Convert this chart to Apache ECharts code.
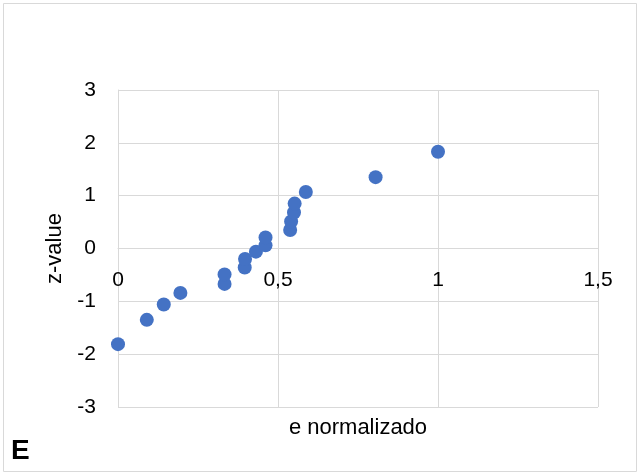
<!DOCTYPE html>
<html><head><meta charset="utf-8">
<script src="https://cdn.jsdelivr.net/npm/echarts@6/dist/echarts.min.js"></script>
<style>html,body{margin:0;padding:0;background:#fff}#c{width:640px;height:475px}</style>
</head><body><div id="c"></div>
<script>
const xValues = [0, 0.09, 0.143, 0.195, 0.333, 0.333, 0.396, 0.397, 0.431, 0.461, 0.461, 0.538, 0.541, 0.55, 0.552, 0.587, 0.805, 1.0];
const zValues = [-1.81, -1.35, -1.06, -0.84, -0.67, -0.49, -0.36, -0.20, -0.06, 0.06, 0.21, 0.35, 0.51, 0.68, 0.85, 1.07, 1.35, 1.83];
const xTitle = 'e normalizado';
const yTitle = 'z-value';
const panelLabel = 'E';
const yMin = -3, yMax = 3;

const chart = echarts.init(document.getElementById('c'), null, {renderer: 'canvas'});
const font = '"Liberation Sans", Arial, sans-serif';
const gridTop = 90, gridBottom = 68, chartH = 475;
// x axis crosses the y axis at z = 0 (offset from the bottom edge of the grid)
const plotH = chartH - gridTop - gridBottom;
const crossOffset = -plotH * (0 - yMin) / (yMax - yMin);
chart.setOption({
  animation: false,
  grid: {left: 118, right: 42, top: gridTop, bottom: gridBottom, containLabel: false},
  xAxis: {
    type: 'value', min: 0, max: 1.5, interval: 0.5, position: 'bottom', offset: crossOffset,
    axisLine: {show: true, onZero: false, lineStyle: {color: '#d9d9d9', width: 1}},
    axisTick: {show: false},
    splitLine: {show: true, lineStyle: {color: '#d9d9d9', width: 1}},
    axisLabel: {color: '#000', fontFamily: font, fontSize: 21, margin: 21,
      formatter: v => String(v).replace('.', ',')}
  },
  yAxis: {
    type: 'value', min: yMin, max: yMax, interval: 1,
    axisLine: {show: true, onZero: false, lineStyle: {color: '#d9d9d9', width: 1}},
    axisTick: {show: false},
    splitLine: {show: true, lineStyle: {color: '#d9d9d9', width: 1}},
    axisLabel: {color: '#000', fontFamily: font, fontSize: 21, margin: 22},
    name: yTitle, nameLocation: 'middle', nameGap: 41, nameRotate: 90,
    nameTextStyle: {color: '#000', fontFamily: font, fontSize: 22}
  },
  graphic: [
    {type: 'rect', shape: {x: 3.5, y: 3.5, width: 633, height: 468},
      style: {fill: 'none', stroke: '#d9d9d9', lineWidth: 1}, silent: true},
    {type: 'text', x: 358, y: 417,
      style: {text: xTitle, font: '22px ' + font, fill: '#000', textAlign: 'center'}},
    {type: 'text', x: 11, y: 437,
      style: {text: panelLabel, font: 'bold 28px ' + font, fill: '#000'}}
  ],
  series: [{
    type: 'scatter',
    data: xValues.map((x, i) => [x, zValues[i]]),
    symbolSize: 14,
    itemStyle: {color: '#4472C4', opacity: 1}
  }]
});
</script></body></html>
